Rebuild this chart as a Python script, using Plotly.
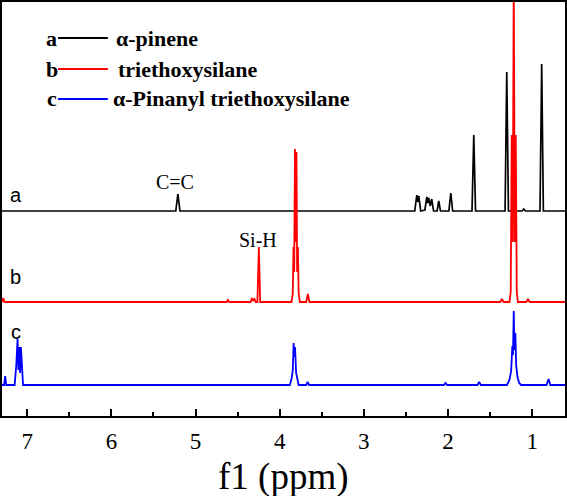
import plotly.graph_objects as go

# ---- data (ppm, intensity above own baseline) ----
a_ppm = [7.30, 5.235, 5.21, 5.185,
         2.395, 2.371, 2.359, 2.347, 2.325,
         2.275, 2.252, 2.240, 2.229, 2.211, 2.193, 2.172,
         2.130, 2.110, 2.090,
         1.990, 1.967, 1.945,
         1.715, 1.694, 1.673,
         1.322, 1.302, 1.282,
         1.12, 1.10, 1.08,
         0.907, 0.887, 0.867,
         0.60]
a_int = [0, 0, 17, 0,
         0, 16, 9, 15, 0,
         1, 14, 8, 13, 5, 12, 0,
         0, 10, 0,
         0, 18, 0,
         0, 76, 0,
         0, 139, 0,
         0, 2, 0,
         0, 147, 0,
         0]

b_ppm = [7.30, 7.285, 7.27,
         4.63, 4.616, 4.60,
         4.345, 4.33, 4.318, 4.30, 4.285,
         4.265, 4.248, 4.232,
         3.86, 3.845, 3.836, 3.828, 3.819, 3.810, 3.801, 3.793, 3.784, 3.775, 3.76,
         3.685, 3.666, 3.647,
         1.38, 1.36, 1.34,
         1.27, 1.255, 1.243, 1.231, 1.219, 1.207, 1.195, 1.183, 1.17,
         1.07, 1.05, 1.03,
         0.60]
b_int = [0, 4, 0,
         0, 2, 0,
         0, 4, 1, 3, 0,
         0, 55, 0,
         0, 8, 55, 30, 153, 60, 150, 30, 55, 8, 0,
         0, 8, 0,
         0, 3, 0,
         0, 10, 167, 60, 330, 60, 167, 10, 0,
         0, 3, 0,
         0]

c_ppm = [7.30, 7.275, 7.262, 7.25,
         7.15, 7.13, 7.115, 7.105, 7.095, 7.085, 7.075, 7.065, 7.05,
         3.88, 3.86, 3.845, 3.835, 3.825, 3.818, 3.805, 3.79, 3.775,
         3.685, 3.668, 3.65,
         2.05, 2.03, 2.01,
         1.65, 1.63, 1.61,
         1.30, 1.27, 1.25, 1.236, 1.228, 1.219, 1.21, 1.20, 1.19, 1.175, 1.155, 1.13,
         0.83, 0.805, 0.785,
         0.60]
c_int = [0, 0, 9, 0,
         0, 20, 46, 15, 38, 12, 38, 25, 0,
         0, 6, 14, 42, 28, 38, 12, 4, 0,
         0, 3, 0,
         0, 2, 0,
         0, 3, 0,
         0, 5, 14, 39, 30, 74, 35, 52, 20, 8, 2, 0,
         0, 6, 0,
         0]

series_names = ["α-pinene", "triethoxysilane", "α-Pinanyl triethoxysilane"]
series_letters = ["a", "b", "c"]
tick_vals = [1, 2, 3, 4, 5, 6, 7]
minor_vals = [1.5, 2.5, 3.5, 4.5, 5.5, 6.5]

# ---- layout constants ----
offsets = [205, 114, 31]
colors = ["#000000", "#ff0000", "#0000ff"]
widths = [1.7, 1.8, 1.8]

fig = go.Figure()
for xs, ys, off, col, w, name in zip([a_ppm, b_ppm, c_ppm], [a_int, b_int, c_int],
                                     offsets, colors, widths, series_names):
    fig.add_trace(go.Scatter(x=xs, y=[v + off for v in ys], mode="lines",
                             line=dict(color=col, width=w), name=name,
                             showlegend=False, hoverinfo="skip"))

serif = "Liberation Serif"
sans = "Liberation Sans"
annotations = []
# trace letters
for letter, y in zip(series_letters, [221, 139, 84]):
    annotations.append(dict(x=7.134, y=y, xref="x", yref="y", text=letter, showarrow=False,
                            xanchor="center", yanchor="middle",
                            font=dict(family=sans, size=20, color="black")))
annotations.append(dict(x=5.245, y=234, xref="x", yref="y", text="C=C", showarrow=False,
                        xanchor="center", yanchor="middle",
                        font=dict(family=serif, size=20, color="black")))
annotations.append(dict(x=4.26, y=176, xref="x", yref="y", text="Si-H", showarrow=False,
                        xanchor="center", yanchor="middle",
                        font=dict(family=serif, size=20, color="black")))

# legend block
shapes = []
leg_y = [0.913, 0.838, 0.766]
leg_tx = [0.199, 0.2025, 0.1936]
for letter, name, col, y, tx in zip(series_letters, series_names, colors, leg_y, leg_tx):
    annotations.append(dict(x=0.0888, y=y, xref="paper", yref="paper", text="<b>%s</b>" % letter,
                            showarrow=False, xanchor="center", yanchor="middle",
                            font=dict(family=serif, size=22, color="black")))
    annotations.append(dict(x=tx, y=y, xref="paper", yref="paper", text="<b>%s</b>" % name,
                            showarrow=False, xanchor="left", yanchor="middle",
                            font=dict(family=serif, size=22, color="black")))
    shapes.append(dict(type="line", xref="paper", yref="paper", x0=0.0995, x1=0.188,
                       y0=y, y1=y, line=dict(color=col, width=2)))

# axis title as annotation
annotations.append(dict(x=0.5, y=-0.147, xref="paper", yref="paper", text="f1 (ppm)",
                        showarrow=False, xanchor="center", yanchor="middle",
                        font=dict(family=serif, size=37, color="black")))

fig.update_layout(
    width=567, height=496,
    margin=dict(l=2, r=2, t=2, b=80),
    paper_bgcolor="white", plot_bgcolor="white",
    annotations=annotations, shapes=shapes,
    xaxis=dict(range=[7.30, 0.61], showgrid=False, zeroline=False, automargin=False,
               showline=True, linecolor="black", linewidth=2, mirror=True,
               ticks="inside", ticklen=7, tickwidth=1.5, tickcolor="black",
               tickvals=tick_vals, ticktext=[str(v) for v in tick_vals],
               ticklabelstandoff=3,
               tickfont=dict(family=serif, size=23, color="black"),
               minor=dict(tickvals=minor_vals, ticks="inside", ticklen=4,
                          tickwidth=1.5, tickcolor="black")),
    yaxis=dict(range=[0, 414], showgrid=False, zeroline=False, automargin=False,
               showline=True, linecolor="black", linewidth=2, mirror=True,
               showticklabels=False, ticks=""),
)

fig.write_html("out.html", config={"displayModeBar": False},
               post_script="document.body.style.margin='0';")
